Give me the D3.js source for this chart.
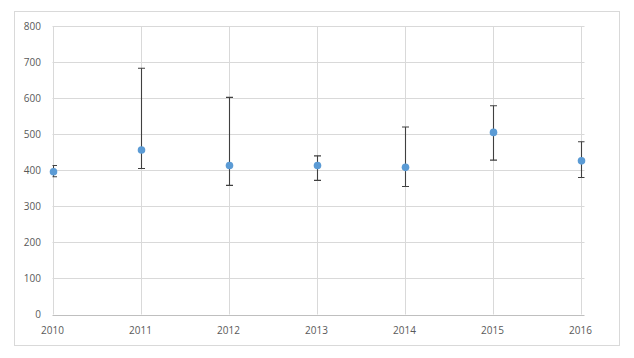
<!DOCTYPE html>
<html><head><meta charset="utf-8">
<script src="https://cdn.jsdelivr.net/npm/d3@7"></script>
<style>body{margin:0;background:#fff;}svg{display:block;}</style>
</head><body>
<svg id="c" width="634" height="358"></svg>
<script>
const years = [2010, 2011, 2012, 2013, 2014, 2015, 2016];
const values = [396, 456, 413, 413, 408, 505, 426];
const errUpper = [413, 683, 602, 440, 520, 579, 479];
const errLower = [382, 405, 358, 372, 355, 428, 380];
const yTicks = [0, 100, 200, 300, 400, 500, 600, 700, 800];

const svg = d3.select("#c");
const W = 634, H = 358;
const m = {left: 52.5, right: 580.5, top: 26, bottom: 314.5};

svg.append("rect").attr("x", 14.5).attr("y", 11.5).attr("width", 605).attr("height", 334)
  .attr("fill", "#fff").attr("stroke", "#d9d9d9");

const x = d3.scaleLinear().domain([2010, 2016]).range([m.left, m.right]);
const y = d3.scaleLinear().domain([0, 800]).range([m.bottom, m.top]);

const defs = svg.append("defs");
defs.append("clipPath").attr("id", "pc").append("rect")
  .attr("x", m.left).attr("y", m.top - 2).attr("width", 532).attr("height", m.bottom - m.top + 2);

// horizontal grid
svg.append("g").selectAll("line").data(yTicks.filter(d => d > 0)).join("line")
  .attr("x1", m.left).attr("x2", 584.5)
  .attr("y1", d => Math.round(y(d)) + 0.5).attr("y2", d => Math.round(y(d)) + 0.5)
  .attr("stroke", "#d9d9d9");
// vertical grid
svg.append("g").selectAll("line").data(years).join("line")
  .attr("x1", d => Math.round(x(d)) + 0.5).attr("x2", d => Math.round(x(d)) + 0.5)
  .attr("y1", m.top).attr("y2", m.bottom)
  .attr("stroke", "#d9d9d9");
// x axis line
svg.append("line").attr("x1", m.left).attr("x2", 584.5)
  .attr("y1", Math.round(y(0)) + 0.5).attr("y2", Math.round(y(0)) + 0.5)
  .attr("stroke", "#bfbfbf");

const font = "'Open Sans', 'Noto Sans', sans-serif";
// y labels
svg.append("g").selectAll("text").data(yTicks).join("text")
  .attr("x", 41).attr("y", d => y(d)).attr("dy", "0.35em")
  .attr("text-anchor", "end").attr("font-family", font).attr("font-size", 10)
  .attr("fill", "#595959").text(d => d);
// x labels
svg.append("g").selectAll("text").data(years).join("text")
  .attr("x", d => x(d)).attr("y", 330).attr("dy", "0.35em")
  .attr("text-anchor", "middle").attr("font-family", font).attr("font-size", 10)
  .attr("fill", "#595959").text(d => d);

// error bars
const eb = svg.append("g").attr("clip-path", "url(#pc)").attr("stroke", "#404040").attr("stroke-width", 1.1);
years.forEach((yr, i) => {
  const cx = Math.round(x(yr)) + 0.5;
  eb.append("line").attr("x1", cx).attr("x2", cx).attr("y1", y(errUpper[i])).attr("y2", y(errLower[i]));
  eb.append("line").attr("x1", cx - 3.5).attr("x2", cx + 3.5).attr("y1", y(errUpper[i])).attr("y2", y(errUpper[i]));
  eb.append("line").attr("x1", cx - 3.5).attr("x2", cx + 3.5).attr("y1", y(errLower[i])).attr("y2", y(errLower[i]));
});

// points
svg.append("g").selectAll("circle").data(years).join("circle")
  .attr("cx", d => Math.round(x(d)) + 0.5).attr("cy", (d, i) => y(values[i]))
  .attr("r", 3.8).attr("fill", "#5b9bd5");
</script>
</body></html>
